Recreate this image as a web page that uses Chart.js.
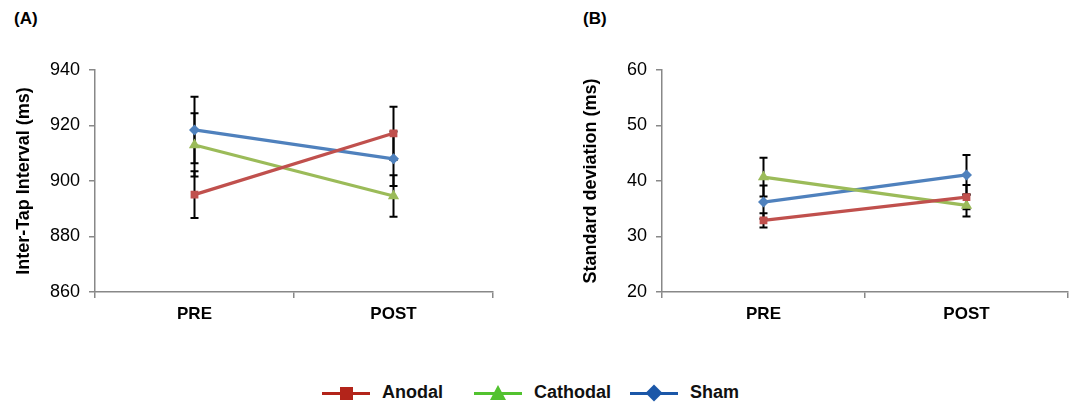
<!DOCTYPE html>
<html lang="en">
<head>
<meta charset="UTF-8">
<title>Tapping results</title>
<script src="https://cdn.jsdelivr.net/npm/chart.js"></script>
<style>
    body { margin: 0; background: #fff; font-family: "Liberation Sans", Arial, sans-serif; }
    #wrap { position: relative; width: 1077px; height: 405px; overflow: hidden; }
    .panel-label { position: absolute; top: 9px; font-weight: bold; font-size: 17px; color: #000; }
    #boxA { position: absolute; left: 0; top: 0; width: 510px; height: 340px; }
    #boxB { position: absolute; left: 570px; top: 0; width: 507px; height: 340px; }
    #legend { position: absolute; top: 381px; left: 322px; height: 24px; font-weight: bold; font-size: 18px; }
    .item { position: absolute; top: 0; white-space: nowrap; }
    .line { position: absolute; top: 11px; width: 48px; height: 3px; }
    .mark { position: absolute; }
    .txt { position: absolute; top: 1px; color: #111; }
</style>
</head>
<body>
<div id="wrap">
    <div class="panel-label" style="left:14px">(A)</div>
    <div class="panel-label" style="left:583px">(B)</div>
    <div id="boxA"><canvas id="chartA"></canvas></div>
    <div id="boxB"><canvas id="chartB"></canvas></div>
    <div id="legend"></div>
</div>
<script>
// categories
const phases = ['PRE', 'POST'];
const groups = ['Anodal', 'Cathodal', 'Sham'];

// panel A: inter-tap interval (ms)
const itiAnodal = [895.1, 917.2];
const itiCathodal = [913.0, 894.6];
const itiSham = [918.4, 908.0];
const itiAnodalErr = [8.4, 9.6];
const itiCathodalErr = [11.4, 7.5];
const itiShamErr = [12.0, 9.8];

// panel B: standard deviation (ms)
const sdAnodal = [32.9, 37.1];
const sdCathodal = [40.7, 35.6];
const sdSham = [36.2, 41.1];
const sdAnodalErr = [1.3, 2.2];
const sdCathodalErr = [3.5, 2.0];
const sdShamErr = [3.0, 3.6];

const lineColors = ['#c0504d', '#9bbb59', '#4f81bd'];
const legendColors = ['#b3241a', '#52c22f', '#1b57a8'];
const markers = ['rect', 'triangle', 'rectRot'];
const markerSizes = [5.5, 6.5, 5.5];

// error bars drawn through the scales
const errorBars = {
    id: 'errorBars',
    beforeDatasetsDraw(chart) {
        const ctx = chart.ctx;
        const x = chart.scales.x, y = chart.scales.y;
        ctx.save();
        ctx.strokeStyle = '#000';
        ctx.lineWidth = 2;
        chart.data.datasets.forEach(ds => {
            ds.data.forEach((v, i) => {
                const e = ds.err[i];
                const px = x.getPixelForValue(i);
                const top = y.getPixelForValue(v + e);
                const bot = y.getPixelForValue(v - e);
                ctx.beginPath();
                ctx.moveTo(px, top); ctx.lineTo(px, bot);
                ctx.moveTo(px - 4, top); ctx.lineTo(px + 4, top);
                ctx.moveTo(px - 4, bot); ctx.lineTo(px + 4, bot);
                ctx.stroke();
            });
        });
        ctx.restore();
    }
};

function makeChart(id, series, errs, min, max, step, title, yWidth, padLeft, padRight) {
    const datasets = series.map((d, k) => ({
        label: groups[k],
        data: d,
        err: errs[k],
        borderColor: lineColors[k],
        backgroundColor: lineColors[k],
        borderWidth: 3.2,
        pointStyle: markers[k],
        pointRadius: markerSizes[k],
        pointBorderWidth: 0,
        tension: 0
    }));
    return new Chart(document.getElementById(id), {
        type: 'line',
        data: { labels: phases, datasets: datasets },
        options: {
            responsive: true,
            maintainAspectRatio: false,
            animation: false,
            layout: { padding: { top: 70, left: padLeft, right: padRight, bottom: 0 } },
            plugins: { legend: { display: false }, tooltip: { enabled: false } },
            scales: {
                x: {
                    offset: true,
                    grid: { offset: true, drawOnChartArea: false, drawTicks: true, tickLength: 6, color: '#888', lineWidth: 1.5 },
                    border: { color: '#888', width: 1.5 },
                    ticks: { color: '#000', padding: 6, font: { family: 'Liberation Sans', size: 17, weight: 'bold' } },
                    afterFit(s) { s.height = 48; }
                },
                y: {
                    min: min, max: max,
                    grid: { drawOnChartArea: false, tickLength: 6, color: '#888', lineWidth: 1.5 },
                    border: { color: '#888', width: 1.5 },
                    ticks: { stepSize: step, color: '#000', padding: 9, font: { family: 'Liberation Sans', size: 18 } },
                    title: { display: true, text: title, color: '#000', padding: 2, font: { family: 'Liberation Sans', size: 18, weight: 'bold' } },
                    afterFit(s) { s.width = yWidth; }
                }
            }
        },
        plugins: [errorBars]
    });
}

makeChart('chartA', [itiAnodal, itiCathodal, itiSham], [itiAnodalErr, itiCathodalErr, itiShamErr],
    860, 940, 20, 'Inter-Tap Interval (ms)', 84, 11, 17);
makeChart('chartB', [sdAnodal, sdCathodal, sdSham], [sdAnodalErr, sdCathodalErr, sdShamErr],
    20, 60, 10, 'Standard deviation (ms)', 84, 8, 9);

// legend
const legendX = [0, 152, 308];
const legend = document.getElementById('legend');
groups.forEach((g, k) => {
    const c = legendColors[k];
    let mark;
    if (k === 0) mark = `<div class="mark" style="left:18px;top:6px;width:13px;height:13px;background:${c}"></div>`;
    else if (k === 1) mark = `<div class="mark" style="left:16px;top:4px;width:0;height:0;border-left:8px solid transparent;border-right:8px solid transparent;border-bottom:15px solid ${c}"></div>`;
    else mark = `<div class="mark" style="left:18px;top:6px;width:12px;height:12px;background:${c};transform:rotate(45deg)"></div>`;
    legend.insertAdjacentHTML('beforeend',
        `<div class="item" style="left:${legendX[k]}px">
            <div class="line" style="left:0;background:${c}"></div>${mark}
            <div class="txt" style="left:60px">${g}</div>
        </div>`);
});
</script>
</body>
</html>
